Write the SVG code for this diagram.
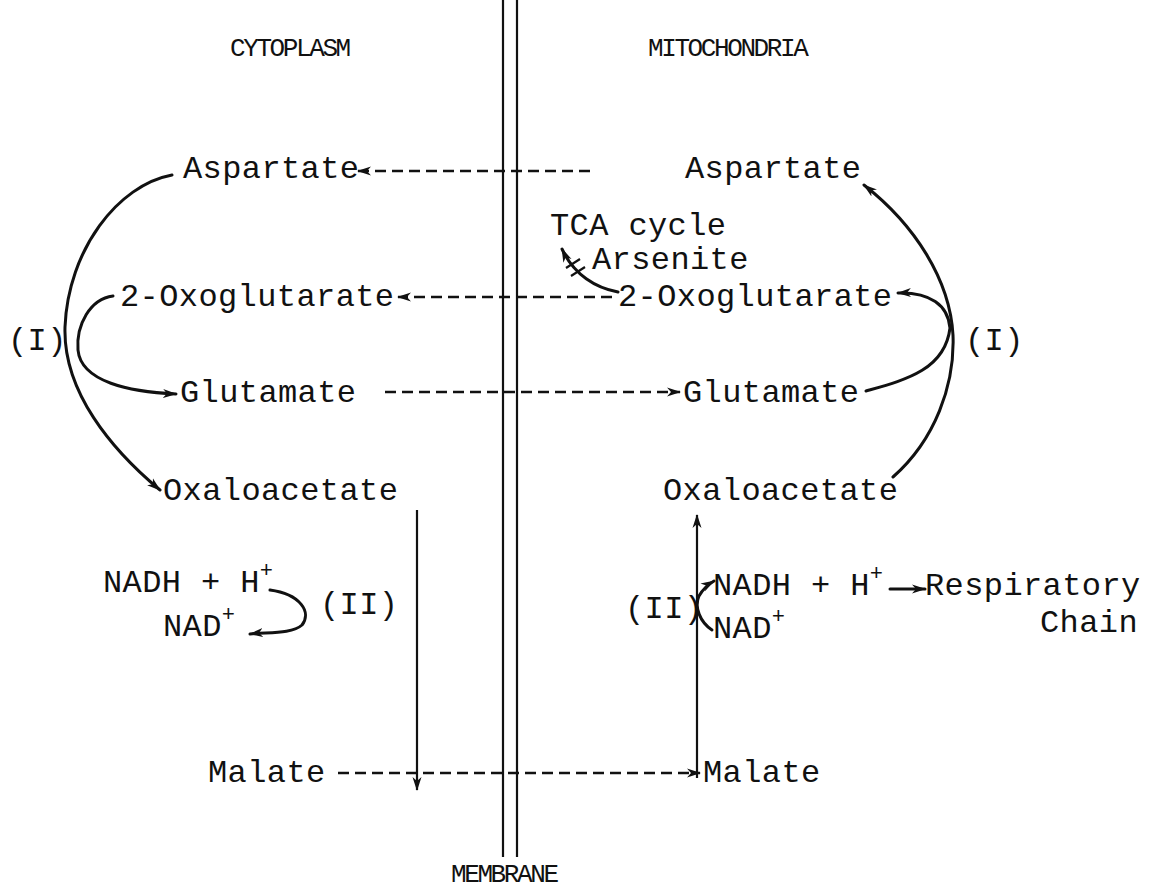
<svg xmlns="http://www.w3.org/2000/svg" width="1167" height="890" viewBox="0 0 1167 890">
  <defs>
    <marker id="head" viewBox="0 0 14 10" refX="13" refY="5" markerWidth="14" markerHeight="10" markerUnits="userSpaceOnUse" orient="auto">
      <path d="M0,0.5 L14,5 L0,9.5 L4,5 Z" fill="#111"/>
    </marker>
    <style>
      text { font-family: "Liberation Mono", "Courier New", monospace; fill: #111; }
      .lbl { font-size: 32px; letter-spacing: 0.4px; }
      .reg { font-size: 26px; letter-spacing: -2.4px; }
      .sup { font-size: 22px; }
      .flow { fill: none; stroke: #111; stroke-width: 3; stroke-linecap: round; }
      .dash { fill: none; stroke: #111; stroke-width: 2.6; stroke-dasharray: 11 6; }
      .line { fill: none; stroke: #111; stroke-width: 2.2; }
    </style>
  </defs>
  <rect width="1167" height="890" fill="#fff"/>

  <!-- membrane -->
  <g id="membrane">
    <line x1="503" y1="0" x2="503" y2="857" class="line"/>
    <line x1="517" y1="0" x2="517" y2="857" class="line"/>
    <text class="reg" x="451" y="882">MEMBRANE</text>
  </g>

  <g id="compartments">
    <text class="reg" x="230" y="56">CYTOPLASM</text>
    <text class="reg" x="648" y="56">MITOCHONDRIA</text>
  </g>

  <!-- cytoplasm side -->
  <g id="asp-cyt"><text class="lbl" x="183" y="178">Aspartate</text></g>
  <g id="oxg-cyt"><text class="lbl" x="120" y="306">2-Oxoglutarate</text></g>
  <g id="glu-cyt"><text class="lbl" x="180" y="402">Glutamate</text></g>
  <g id="oaa-cyt"><text class="lbl" x="163" y="500">Oxaloacetate</text></g>
  <g id="mal-cyt"><text class="lbl" x="208" y="782">Malate</text></g>
  <g id="nadh-cyt"><text class="lbl" x="103" y="592">NADH + H<tspan class="sup" dy="-15">+</tspan></text></g>
  <g id="nad-cyt"><text class="lbl" x="163" y="636">NAD<tspan class="sup" dy="-15">+</tspan></text></g>
  <g id="step1-cyt"><text class="lbl" x="8" y="350">(I)</text></g>
  <g id="step2-cyt"><text class="lbl" x="320" y="614">(II)</text></g>

  <!-- mitochondrial side -->
  <g id="asp-mit"><text class="lbl" x="685" y="178">Aspartate</text></g>
  <g id="tca"><text class="lbl" x="550" y="235">TCA cycle</text></g>
  <g id="arsenite"><text class="lbl" x="592" y="269">Arsenite</text></g>
  <g id="oxg-mit"><text class="lbl" x="618" y="306">2-Oxoglutarate</text></g>
  <g id="glu-mit"><text class="lbl" x="683" y="402">Glutamate</text></g>
  <g id="oaa-mit"><text class="lbl" x="663" y="500">Oxaloacetate</text></g>
  <g id="mal-mit"><text class="lbl" x="703" y="782">Malate</text></g>
  <g id="nadh-mit"><text class="lbl" x="713" y="595">NADH + H<tspan class="sup" dy="-15">+</tspan></text></g>
  <g id="nad-mit"><text class="lbl" x="713" y="638">NAD<tspan class="sup" dy="-15">+</tspan></text></g>
  <g id="resp"><text class="lbl" x="925" y="595">Respiratory</text><text class="lbl" x="1040" y="632">Chain</text></g>
  <g id="step1-mit"><text class="lbl" x="965" y="350">(I)</text></g>
  <g id="step2-mit"><text class="lbl" x="625" y="618">(II)</text></g>

  <!-- connectors -->
  <g id="connectors">
    <!-- transport across the membrane -->
    <path class="dash" d="M590,171 H358" marker-end="url(#head)"/>
    <path class="dash" d="M612,297 H398" marker-end="url(#head)"/>
    <path class="dash" d="M385,392 H680" marker-end="url(#head)"/>
    <path class="dash" d="M338,773 H700" marker-end="url(#head)"/>

    <!-- cytoplasmic transamination (I) -->
    <path class="flow" d="M172,175 C118,185 68,250 65,327 C63,392 112,450 160,490" marker-end="url(#head)"/>
    <path class="flow" d="M113,296 C90,299 76,325 78,350 C81,382 130,392 176,394" marker-end="url(#head)"/>

    <!-- mitochondrial transamination (I) -->
    <path class="flow" d="M893,477 C935,440 955,385 953,335 C950,280 915,225 864,185" marker-end="url(#head)"/>
    <path class="flow" d="M866,391 C905,380 945,370 950,328 C948,305 930,292 898,293" marker-end="url(#head)"/>

    <!-- TCA cycle branch, blocked by arsenite -->
    <path class="flow" d="M618,292 C596,288 574,275 562,249" marker-end="url(#head)"/>
    <path class="line" d="M566,268 L580,259 M571,276 L585,267"/>

    <!-- malate dehydrogenase (II) -->
    <path class="line" d="M417,510 V790" marker-end="url(#head)"/>
    <path class="line" d="M697,778 V515" marker-end="url(#head)"/>
    <path class="flow" d="M270,590 C300,594 312,612 302,625 C292,634 268,632 250,634" marker-end="url(#head)"/>
    <path class="flow" d="M712,630 C700,622 694,607 699,596 C703,589 707,585 714,581" marker-end="url(#head)"/>
    <path class="flow" d="M890,589 H925" marker-end="url(#head)"/>
  </g>
</svg>
